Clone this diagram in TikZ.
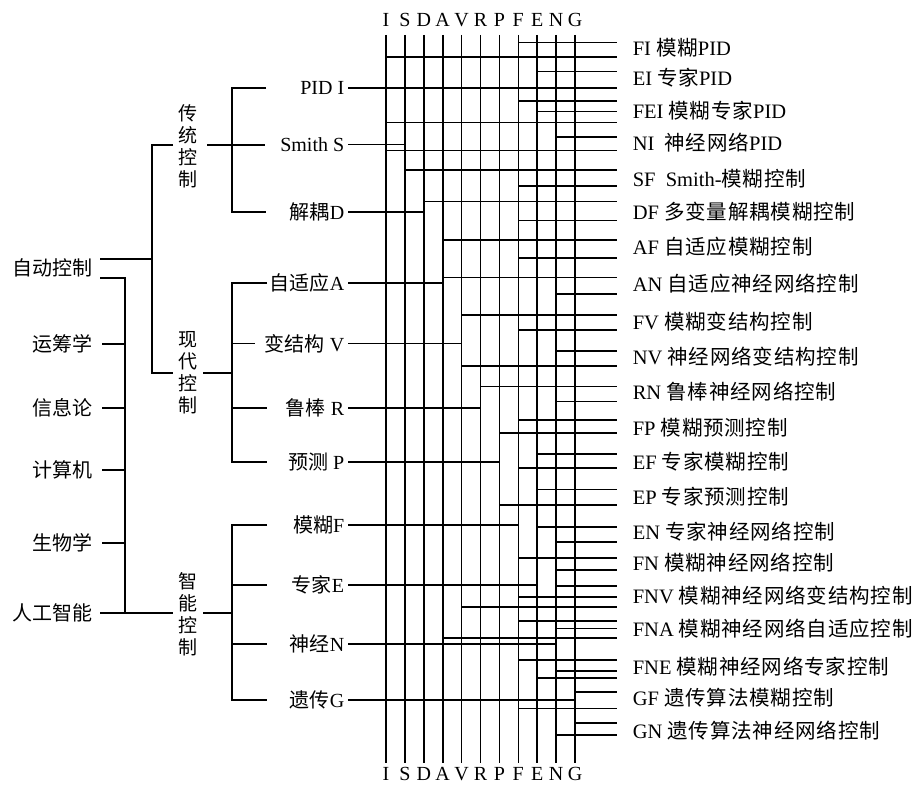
\documentclass[tikz,border=0pt]{standalone}
\usepackage{fontspec}
\setmainfont{Liberation Serif}
\newfontfamily\cjk{Noto Sans CJK SC}
\newfontfamily\cjkw[LetterSpace=4]{Noto Sans CJK SC}
\newcommand\zh[1]{{\cjk #1}}
\newcommand\zw[1]{{\cjkw #1}}
\begin{document}
\begin{tikzpicture}[x=1pt,y=-1pt, line width=1.6pt,
  lab/.style={inner sep=0pt, font=\fontsize{20}{22}\selectfont},
  rlab/.style={inner sep=0pt, anchor=west, font=\fontsize{20.5}{23}\selectfont},
  vlab/.style={inner sep=0pt, align=center, font=\cjk\fontsize{19}{22}\selectfont},
  colab/.style={inner sep=0pt, font=\fontsize{20}{21}\selectfont},
]
\useasboundingbox (0,0) rectangle (914,786);

% ---------- columns ----------
\foreach \n [count=\k from 0] in {I,S,D,A,V,R,P,F,E,N,G} {
  \coordinate (t\n) at (386+18.9*\k,35);
  \coordinate (b\n) at (386+18.9*\k,763);
  \node[colab] (lt\n) at (386+18.9*\k,20) {\n};
  \node[colab] (lb\n) at (386+18.9*\k,774) {\n};
  \draw (t\n) -- (b\n);
}
\coordinate (rend) at (617,0);

% ---------- output lines ----------
\foreach \c/\y in {F/42.7, I/57.3, E/71.7, I/88, F/101, E/111.7, I/122.7,
  N/137.3, I/150.7, S/170, F/186, D/201.7, F/220.7, A/240, F/258.3, A/277.7,
  N/294.3, V/315.3, F/330, N/351, V/366, R/386.7, N/401.7, F/420, P/433.3,
  E/454.3, F/468.3, E/489.5, P/505.3, E/526.7, N/541.7, F/557.7, N/570,
  N/586, F/596.7, V/606.7, F/620.7, N/628.3, A/637.7, F/660, N/670.7,
  E/677.7, G/691.7, F/708.3, G/722.7, N/735} {
  \draw (t\c |- 0,\y) -- (rend |- 0,\y);
}

% ---------- output labels ----------
\node[rlab] (oFI)  at (632,48)  {FI \zw{模糊}PID};
\node[rlab] (oEI)  at (632,78)  {EI \zw{专家}PID};
\node[rlab] (oFEI) at (632,111) {FEI \zw{模糊专家}PID};
\node[rlab] (oNI)  at (632,143) {NI\ \ \zw{神经网络}PID};
\node[rlab] (oSF)  at (632,179) {SF\ \ Smith-\zw{模糊控制}};
\node[rlab] (oDF)  at (632,212) {DF \zw{多变量解耦模糊控制}};
\node[rlab] (oAF)  at (632,247) {AF \zw{自适应模糊控制}};
\node[rlab] (oAN)  at (632,284) {AN \zw{自适应神经网络控制}};
\node[rlab] (oFV)  at (632,322) {FV \zw{模糊变结构控制}};
\node[rlab] (oNV)  at (632,357) {NV \zw{神经网络变结构控制}};
\node[rlab] (oRN)  at (632,392) {RN \zw{鲁棒神经网络控制}};
\node[rlab] (oFP)  at (632,428) {FP \zw{模糊预测控制}};
\node[rlab] (oEF)  at (632,462) {EF \zw{专家模糊控制}};
\node[rlab] (oEP)  at (632,497) {EP \zw{专家预测控制}};
\node[rlab] (oEN)  at (632,532) {EN \zw{专家神经网络控制}};
\node[rlab] (oFN)  at (632,563) {FN \zw{模糊神经网络控制}};
\node[rlab] (oFNV) at (632,596) {FNV \zw{模糊神经网络变结构控制}};
\node[rlab] (oFNA) at (632,629) {FNA \zw{模糊神经网络自适应控制}};
\node[rlab] (oFNE) at (632,667) {FNE \zw{模糊神经网络专家控制}};
\node[rlab] (oGF)  at (632,698) {GF \zw{遗传算法模糊控制}};
\node[rlab] (oGN)  at (632,731) {GN \zw{遗传算法神经网络控制}};

% ---------- input labels ----------
\foreach \nm/\c/\y/\txt in {iI/I/88/{PID I}, iS/S/144.5/{Smith S}, iD/D/212/{\zh{解耦}D},
  iA/A/283/{\zh{自适应}A}, iV/V/343.5/{\zh{变结构} V}, iR/R/408/{\zh{鲁棒} R},
  iP/P/462/{\zh{预测} P}, iF/F/525/{\zh{模糊}F}, iE/E/585/{\zh{专家}E},
  iN/N/644/{\zh{神经}N}, iG/G/700/{\zh{遗传}G}} {
  \node[lab,anchor=east] (\nm) at (345,\y) {\txt};
  \draw (\nm.east) ++(3,0) -- (t\c |- 0,\y);
}

% ---------- left column ----------
\node[lab,anchor=east] (zd) at (93,268) {\zh{自动控制}};
\node[lab,anchor=east] (yc) at (93,344) {\zh{运筹学}};
\node[lab,anchor=east] (xx) at (93,408) {\zh{信息论}};
\node[lab,anchor=east] (js) at (93,470) {\zh{计算机}};
\node[lab,anchor=east] (sw) at (93,543) {\zh{生物学}};
\node[lab,anchor=east] (rg) at (93,613) {\zh{人工智能}};

\coordinate (b0t) at (125,278);
\coordinate (b0b) at (125,613);
\coordinate (b1t) at (152,145);
\coordinate (b1b) at (152,373);

\draw (zd.east |- 0,259) ++(7,0) -- (b1t |- 0,259);
\draw (zd.east |- 0,278) ++(7,0) -- (b0t) -- (b0b);
\foreach \nd in {yc,xx,js,sw} { \draw (\nd.east) ++(9,0) -- (b0t |- \nd.east); }

% vertical group labels
\node[vlab] (ct) at (188,146) {传\\统\\控\\制};
\node[vlab] (xd) at (188,373) {现\\代\\控\\制};
\node[vlab] (zn) at (188,614) {智\\能\\控\\制};

\draw (rg.east |- 0,613) ++(7,0) -- (173,613);
\draw (173,145) -- (b1t) -- (b1b) -- (173,373);

% traditional
\draw (207,145) -- (265,145);
\draw (266,88) -- (232,88) -- (232,212) -- (266,212);
% modern
\draw (203,373) -- (232,373);
\draw (267,283) -- (232,283) -- (232,462) -- (267,462);
\draw (232,343.5) -- (255,343.5);
\draw (232,408) -- (267,408);
% intelligent
\draw (203,613) -- (232,613);
\draw (267,525) -- (232,525) -- (232,700) -- (267,700);
\draw (232,585) -- (267,585);
\draw (232,644) -- (267,644);
\end{tikzpicture}
\end{document}
